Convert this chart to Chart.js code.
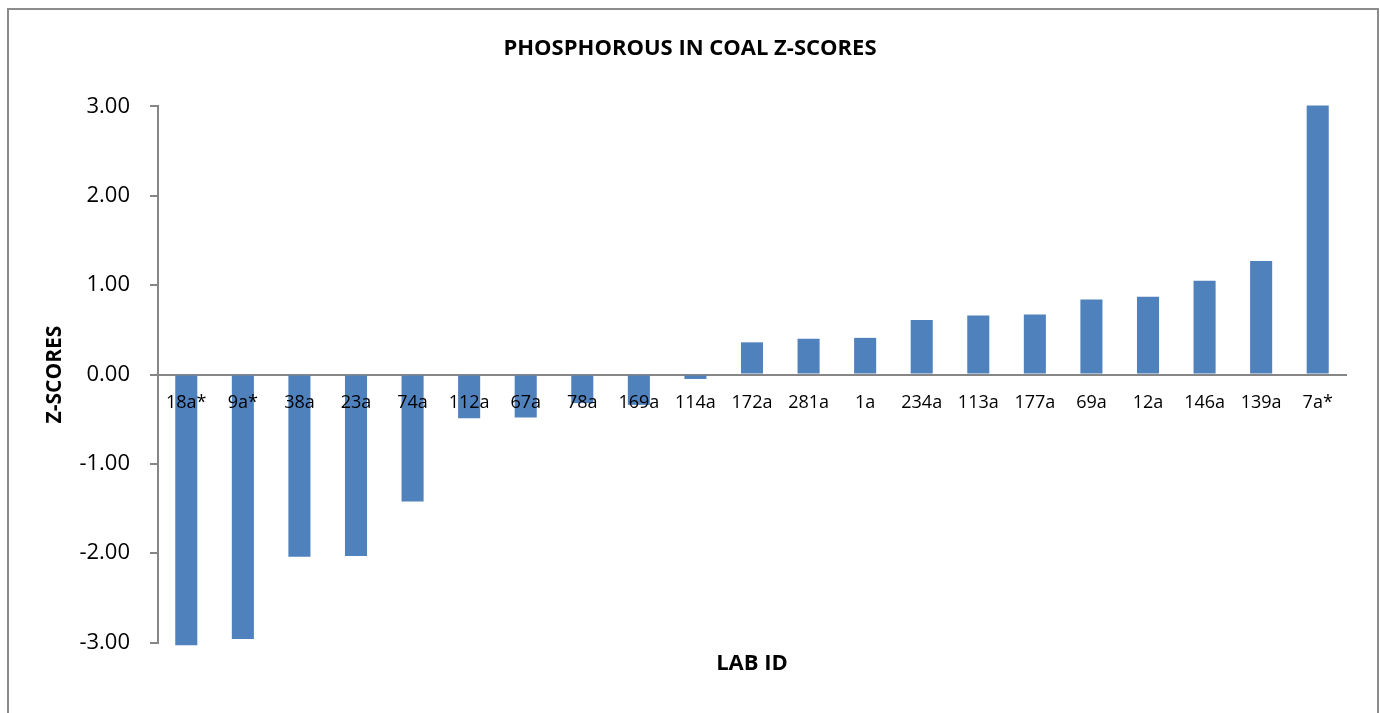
<!DOCTYPE html>
<html>
<head>
<meta charset="utf-8">
<script src="https://cdn.jsdelivr.net/npm/chart.js@4.4.0/dist/chart.umd.min.js"></script>
<style>
    body { margin: 0; background: #fff; }
    #frame { position: absolute; left: 7px; top: 8px; width: 1368px; height: 720px; border: 2px solid #8c8c8c; }
    #wrap { position: absolute; left: 0; top: 0; width: 1380px; height: 713px; }
</style>
</head>
<body>
<div id="frame"></div>
<div id="wrap"><canvas id="zChart"></canvas></div>
<script>
// lab ids, in plotted order
const labIds = ['18a*', '9a*', '38a', '23a', '74a', '112a', '67a', '78a', '169a', '114a',
    '172a', '281a', '1a', '234a', '113a', '177a', '69a', '12a', '146a', '139a', '7a*'];
// z-scores
const zScores = [-3.03, -2.96, -2.04, -2.03, -1.42, -0.49, -0.48, -0.32, -0.34, -0.05,
    0.36, 0.40, 0.41, 0.61, 0.66, 0.67, 0.84, 0.87, 1.05, 1.27, 3.01];
const yTicks = [-3, -2, -1, 0, 1, 2, 3];

const fontFam = "'Open Sans', 'Noto Sans', sans-serif";
const axisGrey = '#868686';

let ctx = document.getElementById('zChart').getContext('2d');

let zChart = new Chart(ctx, {
    type: 'bar',
    data: {
        labels: labIds,
        datasets: [{
            label: 'Z-Score',
            data: zScores,
            backgroundColor: '#4F81BD',
            borderWidth: 0,
            categoryPercentage: 1,
            barPercentage: 0.39,
            clip: false
        }]
    },
    options: {
        responsive: true,
        maintainAspectRatio: false,
        animation: false,
        layout: {
            padding: { left: 34, right: 34, top: 0, bottom: 36 }
        },
        plugins: {
            legend: { display: false },
            tooltip: { enabled: false },
            title: {
                display: true,
                text: 'PHOSPHOROUS IN COAL Z-SCORES',
                color: '#000',
                font: { family: fontFam, size: 22, weight: 'bold' },
                padding: { top: 36, bottom: 44 }
            }
        },
        scales: {
            x: {
                position: { y: 0 },
                grid: { drawOnChartArea: false, drawTicks: false },
                border: { color: axisGrey, width: 2 },
                ticks: {
                    z: 1, // labels sit on top of the bars
                    color: '#000',
                    font: { family: fontFam, size: 18 },
                    padding: 18,
                    maxRotation: 0,
                    autoSkip: false
                }
            },
            x2: {
                type: 'category',
                labels: labIds,
                position: 'bottom',
                grid: { display: false },
                border: { display: false },
                ticks: { display: false },
                title: {
                    display: true,
                    text: 'LAB ID',
                    color: '#000',
                    font: { family: fontFam, size: 22, weight: 'bold' },
                    padding: { top: 0, bottom: 0 }
                }
            },
            y: {
                min: -3,
                max: 3,
                afterBuildTicks: (scale) => {
                    scale.ticks = yTicks.map(v => ({ value: v }));
                },
                afterFit: (scale) => {
                    scale.width = 124;
                },
                grid: { drawOnChartArea: false, drawTicks: true, tickLength: 8, color: axisGrey, lineWidth: 2 },
                border: { color: axisGrey, width: 2 },
                ticks: {
                    color: '#000',
                    font: { family: fontFam, size: 22 },
                    padding: 20,
                    callback: (v) => Number(v).toFixed(2)
                },
                title: {
                    display: true,
                    text: 'Z-SCORES',
                    color: '#000',
                    font: { family: fontFam, size: 21, weight: 'bold' },
                    padding: { top: 8, bottom: 0 }
                }
            }
        }
    }
});
</script>
</body>
</html>
